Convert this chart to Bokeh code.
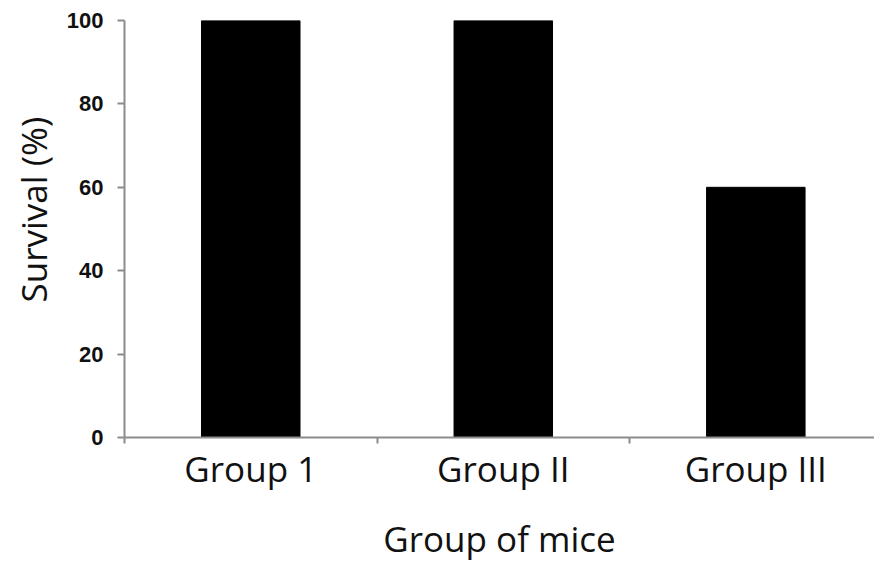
from bokeh.plotting import figure
from bokeh.models import ColumnDataSource, FixedTicker, Range1d, Title
from bokeh.embed import file_html
from bokeh.resources import INLINE

categories = ["Group 1", "Group II", "Group III"]
survival = [100, 100, 60]
y_ticks = [0, 20, 40, 60, 80, 100]

xpos = [i + 0.5 for i in range(len(categories))]
src = ColumnDataSource(dict(x=xpos, top=survival, cat=categories))

p = figure(width=874, height=564, output_backend="svg", toolbar_location=None,
           x_range=Range1d(0, 2.97), y_range=Range1d(0, 100),
           min_border_left=124, min_border_top=20, min_border_right=0, min_border_bottom=127)
p.outline_line_color = None
p.grid.grid_line_color = None
p.background_fill_color = "white"

p.vbar(x="x", top="top", bottom=0, width=0.39, source=src, fill_color="black", line_color="black")

xa = p.xaxis[0]
xa.ticker = FixedTicker(ticks=xpos, minor_ticks=list(range(len(categories) + 1)))
xa.major_label_overrides = {x: c for x, c in zip(xpos, categories)}
xa.major_tick_out = 0
xa.major_tick_in = 0
xa.minor_tick_out = 6
xa.minor_tick_in = 0
xa.minor_tick_line_color = "#8c8c8c"
xa.axis_line_color = "#8c8c8c"
xa.axis_line_width = 2
xa.minor_tick_line_width = 2
xa.major_label_text_font = "Open Sans"
xa.major_label_text_font_size = "35px"
xa.major_label_text_color = "#111111"
xa.major_label_standoff = 1
xa.axis_label = "Group of mice"
xa.axis_label_text_font = "Open Sans"
xa.axis_label_text_font_size = "35px"
xa.axis_label_text_font_style = "normal"
xa.axis_label_text_color = "#111111"
xa.axis_label_standoff = 20

ya = p.yaxis[0]
ya.ticker = FixedTicker(ticks=y_ticks)
ya.minor_tick_line_color = None
ya.major_tick_out = 7
ya.major_tick_in = 0
ya.major_tick_line_color = "#8c8c8c"
ya.major_tick_line_width = 2
ya.axis_line_color = "#8c8c8c"
ya.axis_line_width = 2
ya.major_label_text_font = "Liberation Sans"
ya.major_label_text_font_style = "bold"
ya.major_label_text_font_size = "22px"
ya.major_label_text_color = "#111111"
ya.major_label_standoff = 14

ytitle = Title(text="Survival (%)", align="left", offset=135, standoff=13,
               text_font="Open Sans", text_font_size="35px", text_font_style="normal",
               text_color="#111111")
p.add_layout(ytitle, "left")

open("out.html", "w").write(file_html(p, INLINE))
